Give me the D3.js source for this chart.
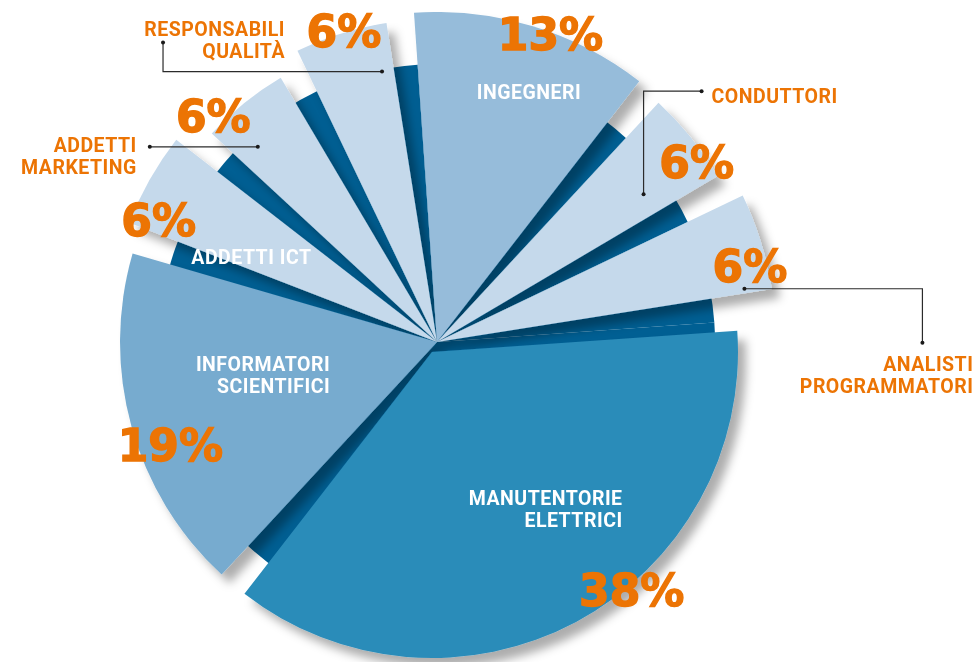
<!DOCTYPE html>
<html>
<head>
<meta charset="utf-8">
<script src="https://cdn.jsdelivr.net/npm/d3@7"></script>
<style>
  body { margin: 0; background: #fff; }
  .pct { font-family: "DejaVu Sans", sans-serif; font-weight: bold; font-size: 44px; fill: #ec7404; stroke: #ec7404; stroke-width: 1.4; }
  .name { font-family: Roboto, "Open Sans", sans-serif; font-weight: 700; font-size: 19.5px; letter-spacing: 0.5px; }
</style>
</head>
<body>
<div id="chart"></div>
<script>
// data, clockwise from 12 o'clock
const categories = ["INGEGNERI", "CONDUTTORI", "ANALISTI PROGRAMMATORI", "MANUTENTORIE ELETTRICI",
                    "INFORMATORI SCIENTIFICI", "ADDETTI ICT", "ADDETTI MARKETING", "RESPONSABILI QUALITÀ"];
const shares = [13, 6, 6, 38, 19, 6, 6, 6];
const nameLines = [["INGEGNERI"], ["CONDUTTORI"], ["ANALISTI", "PROGRAMMATORI"], ["MANUTENTORIE", "ELETTRICI"],
                   ["INFORMATORI", "SCIENTIFICI"], ["ADDETTI ICT"], ["ADDETTI", "MARKETING"], ["RESPONSABILI", "QUALITÀ"]];

// styling per slice
const fills = ["#96bcda", "#c5d9eb", "#c5d9eb", "#2c8cb9", "#77abcf", "#c5d9eb", "#c5d9eb", "#c5d9eb"];
const radii = [330, 326, 339, 306, 317, 330, 307, 323];
const explode = [[0, 0], [0, 0], [0, 0], [-5, 10], [0, 0], [0, 0], [0, 0], [0, 0]];
// big % label: [fraction along slice, radius]
const pctPos = [[0.58, 328], [0.75, 316], [0.72, 322], [0.41, 311], [0.41, 286], [0.15, 304], [0.15, 318], [0.54, 325]];
// white names drawn inside the slice (null = drawn outside with a leader)
const innerNames = [
  {t: 0.58, r: 266, anchor: "middle"}, null, null,
  {t: 0.33, r: 247, anchor: "end"},
  {t: 0.47, r: 112, anchor: "end"},
  {t: 0.2, r: 204, anchor: "middle"}, null, null
];
// leaders: dot in slice, then relative segments, label offset from the last point
const callouts = [
  null,
  {t: 0.7, r: 254, path: [[0, -103], [58, 0]], text: [10, 12], anchor: "start"},
  {t: 0.95, r: 312, path: [[178, 0], [0, 54]], text: [51, 28], anchor: "end"},
  null, null, null,
  {t: 0.28, r: 265, path: [[-108, 0]], text: [-13, 5], anchor: "end"},
  {t: 0.85, r: 276, path: [[-219, 0], [0, -29]], text: [122, -7], anchor: "end"}
];

const config = {
  width: 975, height: 662,
  cx: 437, cy: 342,
  startAngle: -4, gap: 5,
  baseRadius: 278,
  orange: "#ec7404",
  lineHeight: 22
};

const rad = Math.PI / 180;

const svg = d3.select("#chart").append("svg")
  .attr("width", config.width)
  .attr("height", config.height);

const filter = svg.append("defs").append("filter")
  .attr("id", "shadow")
  .attr("x", "-20%").attr("y", "-20%")
  .attr("width", "140%").attr("height", "140%");
filter.append("feDropShadow")
  .attr("dx", 8).attr("dy", 9)
  .attr("stdDeviation", 5)
  .attr("flood-color", "#000")
  .attr("flood-opacity", 0.32);

const pie = d3.pie().value(d => d).sort(null)
  .startAngle(config.startAngle * rad)
  .endAngle(config.startAngle * rad + 2 * Math.PI);
const arcs = pie(shares);

const g = svg.append("g").attr("transform", `translate(${config.cx},${config.cy})`);

// dark base under everything
g.append("g").selectAll("path").data(arcs).join("path")
  .attr("fill", "#005f93")
  .attr("d", d3.arc().innerRadius(0).outerRadius(config.baseRadius));

// coloured slices, trimmed at their clockwise end so the base shows through
const sliceArc = d3.arc().innerRadius(0);
g.append("g").attr("filter", "url(#shadow)")
  .selectAll("path").data(arcs).join("path")
  .attr("transform", (d, i) => `translate(${explode[i]})`)
  .attr("fill", (d, i) => fills[i])
  .attr("d", (d, i) => sliceArc({
    startAngle: d.startAngle,
    endAngle: d.endAngle - config.gap * rad,
    outerRadius: radii[i]
  }));

// point at fraction t of the visible slice, radius r
function polar(d, i, t, r) {
  const a = d.startAngle + t * (d.endAngle - config.gap * rad - d.startAngle);
  return [explode[i][0] + r * Math.sin(a), explode[i][1] - r * Math.cos(a)];
}

function addLines(sel, lines, x, y, anchor, fill) {
  lines.forEach((l, k) => {
    sel.append("text")
      .attr("class", "name")
      .attr("text-anchor", anchor)
      .attr("fill", fill)
      .attr("x", x)
      .attr("y", y + k * config.lineHeight)
      .text(l);
  });
}

// inner white names
arcs.forEach((d, i) => {
  const s = innerNames[i];
  if (!s) return;
  const [x, y] = polar(d, i, s.t, s.r);
  const n = nameLines[i].length;
  addLines(g, nameLines[i], x, y + 7 - (n - 1) * config.lineHeight / 2, s.anchor, "#fff");
});

// leaders + orange outside names
arcs.forEach((d, i) => {
  const c = callouts[i];
  if (!c) return;
  const pts = [polar(d, i, c.t, c.r)];
  c.path.forEach(([dx, dy]) => {
    const p = pts[pts.length - 1];
    pts.push([p[0] + dx, p[1] + dy]);
  });
  g.append("path")
    .attr("d", d3.line()(pts))
    .attr("fill", "none")
    .attr("stroke", "#2b2b2b")
    .attr("stroke-width", 1.2);
  g.selectAll(null).data([pts[0], pts[pts.length - 1]]).join("circle")
    .attr("cx", p => p[0]).attr("cy", p => p[1])
    .attr("r", 2).attr("fill", "#1a1a1a");
  const end = pts[pts.length - 1];
  addLines(g, nameLines[i], end[0] + c.text[0], end[1] + c.text[1], c.anchor, config.orange);
});

// big percentages
g.append("g").selectAll("text").data(arcs).join("text")
  .attr("class", "pct")
  .attr("text-anchor", "middle")
  .attr("x", (d, i) => polar(d, i, pctPos[i][0], pctPos[i][1])[0])
  .attr("y", (d, i) => polar(d, i, pctPos[i][0], pctPos[i][1])[1] + 16)
  .text(d => `${d.data}%`);
</script>
</body>
</html>
